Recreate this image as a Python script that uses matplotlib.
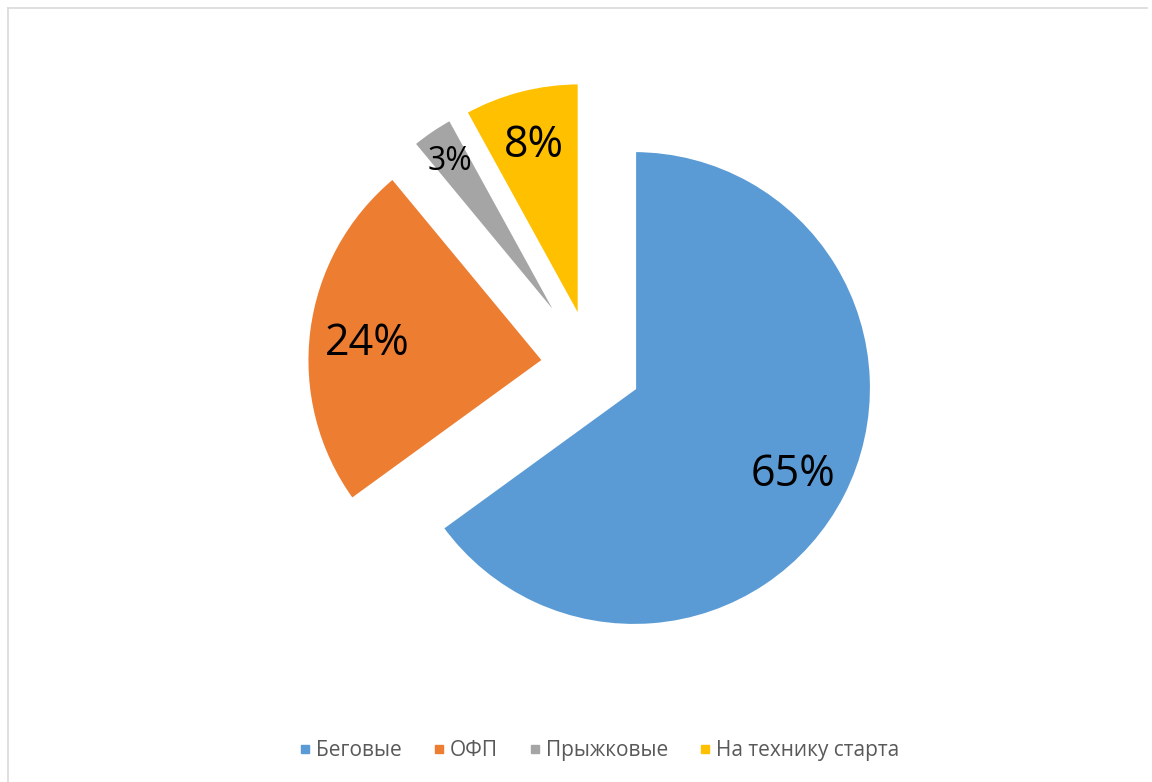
import numpy as np
import matplotlib
matplotlib.use('Agg')
import matplotlib.pyplot as plt
from matplotlib.lines import Line2D

categories = ['Беговые', 'ОФП', 'Прыжковые', 'На технику старта']
shares = [65, 24, 3, 8]
colors = ['#5B9BD5', '#ED7D31', '#A5A5A5', '#FFC000']
explode = [0.2, 0.2, 0.2, 0.2]

# how far out along each slice the percentage sits, and its size
label_dist = [0.75, 0.75, 0.86, 0.78]
label_size = [31, 31, 23, 31]

plt.rcParams['font.family'] = ['Open Sans', 'DejaVu Sans']

W, H = 1152, 782
fig = plt.figure(figsize=(W / 100, H / 100), dpi=100)
ax = fig.add_axes([0, 0, 1, 1])

wedges, _ = ax.pie(shares, colors=colors, explode=explode, startangle=90,
                   counterclock=False, radius=1,
                   wedgeprops=dict(edgecolor='white', linewidth=3))

for w, val, d, fs in zip(wedges, shares, label_dist, label_size):
    t = np.deg2rad((w.theta1 + w.theta2) / 2)
    cx, cy = w.center
    ax.text(cx + d * w.r * np.cos(t), cy + d * w.r * np.sin(t), f'{val}%',
            ha='center', va='center_baseline', fontsize=fs, color='black')

# pie radius is 238 px, centre at (591.6, 366.4) from top-left
scale = 238.0
px, py = 591.6, 366.4
ax.set_aspect('auto')
ax.set_xlim(-px / scale, (W - px) / scale)
ax.set_ylim(-(H - py) / scale, py / scale)
ax.axis('off')

handles = [Line2D([], [], marker='s', linestyle='', color=c, markersize=5.8)
           for c in colors]
leg = fig.legend(handles, categories, loc='center', ncol=4,
                 bbox_to_anchor=(0.520, 0.040), frameon=False,
                 fontsize=15, handlelength=0.6, handletextpad=0.25,
                 columnspacing=1.45)
for txt in leg.get_texts():
    txt.set_color('#595959')

# chart area border (left and top edges only)
fig.add_artist(Line2D([8 / W, 8 / W], [0, 1 - 8 / H], transform=fig.transFigure,
                      color='#D9D9D9', lw=1.2))
fig.add_artist(Line2D([8 / W, 1147 / W], [1 - 8 / H, 1 - 8 / H],
                      transform=fig.transFigure, color='#D9D9D9', lw=1.2))

fig.savefig('out.png', dpi=100)
